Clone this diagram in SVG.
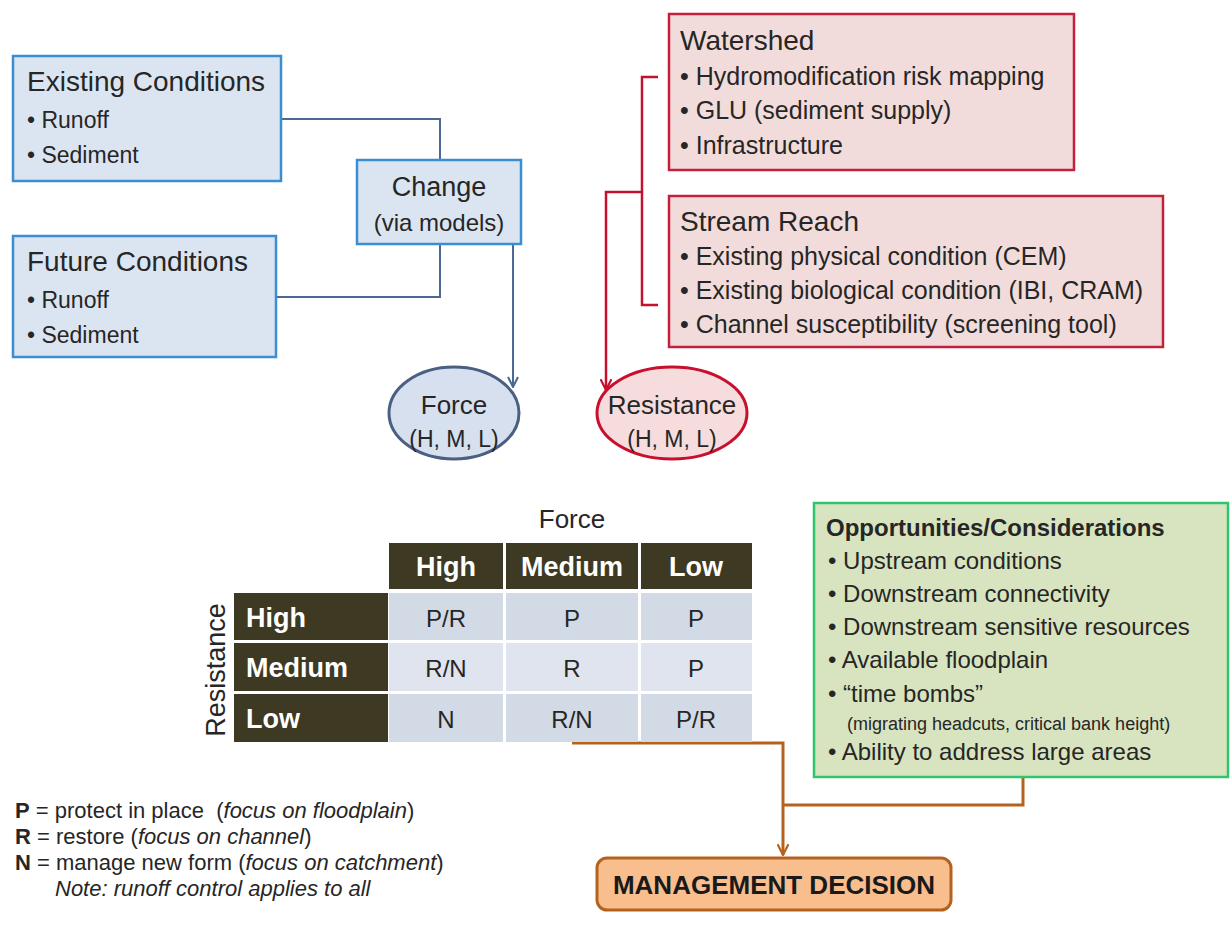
<svg xmlns="http://www.w3.org/2000/svg" width="1230" height="930" viewBox="0 0 1230 930">
<defs>
<style>
text{font-family:"Liberation Sans",Arial,sans-serif;fill:#262626}
.bluebox{fill:#dbe5f1;stroke:#3a8fd2;stroke-width:2.5}
.redbox{fill:#f2dcdb;stroke:#c2203c;stroke-width:2.5}
.greenbox{fill:#d8e4bf;stroke:#2fc46e;stroke-width:2.5}
.ttl{font-size:28px}
.bul{font-size:23px}
.rbul{font-size:25px}
.obul{font-size:24px}
.hdr{fill:#3e3923}
.hdrt{font-size:27px;font-weight:bold;fill:#ffffff}
.cell{fill:#d2dae6}
.cell2{fill:#dfe4ee}
.cellt{font-size:24px;text-anchor:middle}
.leg{font-size:22px}
.blue{fill:none;stroke:#4d6893;stroke-width:2}
.red{fill:none;stroke:#c8102e;stroke-width:2.5}
.brown{fill:none;stroke:#b5621e;stroke-width:3}
</style>
<marker id="ab" viewBox="0 0 12 12" refX="11" refY="6" markerWidth="12" markerHeight="12" markerUnits="userSpaceOnUse" orient="auto"><path d="M1,1 L11,6 L1,11" fill="none" stroke="#4d6893" stroke-width="2"/></marker>
<marker id="ar" viewBox="0 0 12 12" refX="11" refY="6" markerWidth="13" markerHeight="13" markerUnits="userSpaceOnUse" orient="auto"><path d="M1,1 L11,6 L1,11" fill="none" stroke="#c8102e" stroke-width="2"/></marker>
<marker id="abr" viewBox="0 0 12 12" refX="11" refY="6" markerWidth="13" markerHeight="13" markerUnits="userSpaceOnUse" orient="auto"><path d="M1,1 L11,6 L1,11" fill="none" stroke="#b5621e" stroke-width="2"/></marker>
</defs>
<rect width="1230" height="930" fill="#ffffff"/>

<g id="connectors">
<path class="blue" d="M281,119 H440 V160"/>
<path class="blue" d="M276,297 H440 V244"/>
<path class="blue" d="M513,244 V387" marker-end="url(#ab)"/>
<path class="red" d="M658,77 H642 V305 H658"/>
<path class="red" d="M642,192 H606 V390" marker-end="url(#ar)"/>
<path class="brown" d="M572,743 H783 V855" marker-end="url(#abr)"/>
<path class="brown" d="M1023,777 V805 H783"/>
</g>

<g id="existing">
<rect class="bluebox" x="13" y="56" width="268" height="125"/>
<text class="ttl" x="27" y="91">Existing Conditions</text>
<text class="bul" x="27" y="128">• Runoff</text>
<text class="bul" x="27" y="163">• Sediment</text>
</g>

<g id="future">
<rect class="bluebox" x="13" y="236" width="263" height="121"/>
<text class="ttl" x="27" y="271">Future Conditions</text>
<text class="bul" x="27" y="308">• Runoff</text>
<text class="bul" x="27" y="343">• Sediment</text>
</g>

<g id="change">
<rect class="bluebox" x="357" y="160" width="164" height="84"/>
<text x="439" y="196" font-size="27" text-anchor="middle">Change</text>
<text x="439" y="231" font-size="24" text-anchor="middle">(via models)</text>
</g>

<g id="watershed">
<rect class="redbox" x="669" y="14" width="405" height="156"/>
<text class="ttl" x="680" y="50">Watershed</text>
<text class="rbul" x="680" y="85">• Hydromodification risk mapping</text>
<text class="rbul" x="680" y="119">• GLU (sediment supply)</text>
<text class="rbul" x="680" y="154">• Infrastructure</text>
</g>

<g id="streamreach">
<rect class="redbox" x="669" y="196" width="494" height="151"/>
<text class="ttl" x="680" y="231">Stream Reach</text>
<text class="rbul" x="680" y="265">• Existing physical condition (CEM)</text>
<text class="rbul" x="680" y="299">• Existing biological condition (IBI, CRAM)</text>
<text class="rbul" x="680" y="333">• Channel susceptibility (screening tool)</text>
</g>

<g id="force">
<ellipse cx="454" cy="413" rx="65" ry="46" fill="#d6e0ee" stroke="#4a5f82" stroke-width="3"/>
<text x="454" y="414" font-size="26" text-anchor="middle">Force</text>
<text x="454" y="447" font-size="23" text-anchor="middle">(H, M, L)</text>
</g>

<g id="resistance">
<ellipse cx="672" cy="413" rx="75" ry="46" fill="#f6dcdc" stroke="#c8102e" stroke-width="3"/>
<text x="672" y="414" font-size="26" text-anchor="middle">Resistance</text>
<text x="672" y="447" font-size="23" text-anchor="middle">(H, M, L)</text>
</g>

<g id="matrix">
<text x="572" y="528" font-size="26" text-anchor="middle">Force</text>
<text transform="translate(225,670) rotate(-90)" font-size="27" text-anchor="middle">Resistance</text>
<rect class="hdr" x="389" y="543" width="114" height="46"/>
<rect class="hdr" x="506" y="543" width="132" height="46"/>
<rect class="hdr" x="641" y="543" width="111" height="46"/>
<text class="hdrt" x="446" y="576" text-anchor="middle">High</text>
<text class="hdrt" x="572" y="576" text-anchor="middle">Medium</text>
<text class="hdrt" x="696" y="576" text-anchor="middle">Low</text>
<rect class="hdr" x="234" y="593" width="154" height="47"/>
<rect class="hdr" x="234" y="643" width="154" height="48"/>
<rect class="hdr" x="234" y="694" width="154" height="48"/>
<text class="hdrt" x="246" y="627">High</text>
<text class="hdrt" x="246" y="677">Medium</text>
<text class="hdrt" x="246" y="728">Low</text>
<rect class="cell" x="389" y="593" width="114" height="47"/>
<rect class="cell" x="506" y="593" width="132" height="47"/>
<rect class="cell" x="641" y="593" width="111" height="47"/>
<rect class="cell2" x="389" y="643" width="114" height="48"/>
<rect class="cell2" x="506" y="643" width="132" height="48"/>
<rect class="cell2" x="641" y="643" width="111" height="48"/>
<rect class="cell" x="389" y="694" width="114" height="48"/>
<rect class="cell" x="506" y="694" width="132" height="48"/>
<rect class="cell" x="641" y="694" width="111" height="48"/>
<text class="cellt" x="446" y="627">P/R</text>
<text class="cellt" x="572" y="627">P</text>
<text class="cellt" x="696" y="627">P</text>
<text class="cellt" x="446" y="677">R/N</text>
<text class="cellt" x="572" y="677">R</text>
<text class="cellt" x="696" y="677">P</text>
<text class="cellt" x="446" y="728">N</text>
<text class="cellt" x="572" y="728">R/N</text>
<text class="cellt" x="696" y="728">P/R</text>
</g>

<g id="opportunities">
<rect class="greenbox" x="814" y="503" width="414" height="274"/>
<text x="826" y="536" font-size="24" font-weight="bold">Opportunities/Considerations</text>
<text class="obul" x="828" y="569">• Upstream conditions</text>
<text class="obul" x="828" y="602">• Downstream connectivity</text>
<text class="obul" x="828" y="635">• Downstream sensitive resources</text>
<text class="obul" x="828" y="668">• Available floodplain</text>
<text class="obul" x="828" y="702">• “time bombs”</text>
<text x="847" y="730" font-size="18">(migrating headcuts, critical bank height)</text>
<text class="obul" x="828" y="760">• Ability to address large areas</text>
</g>

<g id="decision">
<rect x="597" y="858" width="354" height="52" rx="10" fill="#f9be8e" stroke="#b5621e" stroke-width="3"/>
<text x="774" y="894" font-size="26" font-weight="bold" text-anchor="middle" style="fill:#1a1a1a">MANAGEMENT DECISION</text>
</g>

<g id="legend">
<text class="leg" x="15" y="818"><tspan font-weight="bold">P</tspan> = protect in place &#160;(<tspan font-style="italic">focus on floodplain</tspan>)</text>
<text class="leg" x="15" y="844"><tspan font-weight="bold">R</tspan> = restore (<tspan font-style="italic">focus on channel</tspan>)</text>
<text class="leg" x="15" y="870"><tspan font-weight="bold">N</tspan> = manage new form (<tspan font-style="italic">focus on catchment</tspan>)</text>
<text class="leg" x="55" y="896" font-style="italic">Note: runoff control applies to all</text>
</g>
</svg>
